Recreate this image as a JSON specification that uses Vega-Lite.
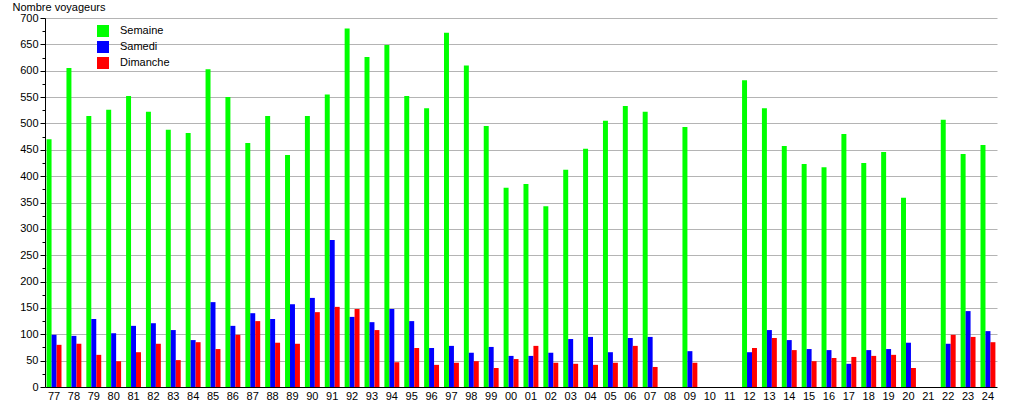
{
  "$schema": "https://vega.github.io/schema/vega-lite/v6.json",
  "width": 952,
  "height": 369,
  "autosize": {"type": "none"},
  "padding": {"left": 45, "top": 18, "right": 18, "bottom": 13},
  "background": "white",
  "config": {
    "view": {"stroke": null},
    "font": "Liberation Sans",
    "axis": {"labelFont": "Liberation Sans", "titleFont": "Liberation Sans", "labelColor": "black", "labelFontSize": 11}
  },
  "data": {
    "values": [
      {"a": "77", "Semaine": 470, "Samedi": 99, "Dimanche": 80},
      {"a": "78", "Semaine": 605, "Samedi": 97, "Dimanche": 82},
      {"a": "79", "Semaine": 514, "Samedi": 129, "Dimanche": 61},
      {"a": "80", "Semaine": 526, "Samedi": 102, "Dimanche": 49},
      {"a": "81", "Semaine": 552, "Samedi": 116, "Dimanche": 66},
      {"a": "82", "Semaine": 522, "Samedi": 121, "Dimanche": 82},
      {"a": "83", "Semaine": 488, "Samedi": 108, "Dimanche": 51},
      {"a": "84", "Semaine": 482, "Samedi": 89, "Dimanche": 85},
      {"a": "85", "Semaine": 603, "Samedi": 161, "Dimanche": 72},
      {"a": "86", "Semaine": 550, "Samedi": 116, "Dimanche": 99},
      {"a": "87", "Semaine": 463, "Samedi": 140, "Dimanche": 125},
      {"a": "88", "Semaine": 514, "Samedi": 129, "Dimanche": 84},
      {"a": "89", "Semaine": 440, "Samedi": 157, "Dimanche": 82},
      {"a": "90", "Semaine": 514, "Samedi": 169, "Dimanche": 142},
      {"a": "91", "Semaine": 555, "Samedi": 279, "Dimanche": 152},
      {"a": "92", "Semaine": 680, "Samedi": 133, "Dimanche": 148},
      {"a": "93", "Semaine": 626, "Samedi": 123, "Dimanche": 108},
      {"a": "94", "Semaine": 649, "Samedi": 148, "Dimanche": 47},
      {"a": "95", "Semaine": 552, "Samedi": 125, "Dimanche": 74},
      {"a": "96", "Semaine": 529, "Samedi": 74, "Dimanche": 42},
      {"a": "97", "Semaine": 672, "Samedi": 78, "Dimanche": 46},
      {"a": "98", "Semaine": 610, "Samedi": 65, "Dimanche": 49},
      {"a": "99", "Semaine": 495, "Samedi": 76, "Dimanche": 36},
      {"a": "00", "Semaine": 378, "Samedi": 59, "Dimanche": 53},
      {"a": "01", "Semaine": 385, "Samedi": 59, "Dimanche": 78},
      {"a": "02", "Semaine": 343, "Samedi": 65, "Dimanche": 46},
      {"a": "03", "Semaine": 412, "Samedi": 91, "Dimanche": 44},
      {"a": "04", "Semaine": 452, "Samedi": 95, "Dimanche": 42},
      {"a": "05", "Semaine": 505, "Samedi": 66, "Dimanche": 46},
      {"a": "06", "Semaine": 533, "Samedi": 93, "Dimanche": 78},
      {"a": "07", "Semaine": 522, "Samedi": 95, "Dimanche": 38},
      {"a": "09", "Semaine": 493, "Samedi": 68, "Dimanche": 46},
      {"a": "12", "Semaine": 582, "Samedi": 66, "Dimanche": 74},
      {"a": "13", "Semaine": 529, "Samedi": 108, "Dimanche": 93},
      {"a": "14", "Semaine": 457, "Samedi": 89, "Dimanche": 70},
      {"a": "15", "Semaine": 423, "Samedi": 72, "Dimanche": 49},
      {"a": "16", "Semaine": 417, "Samedi": 70, "Dimanche": 55},
      {"a": "17", "Semaine": 480, "Samedi": 44, "Dimanche": 57},
      {"a": "18", "Semaine": 425, "Samedi": 70, "Dimanche": 59},
      {"a": "19", "Semaine": 446, "Samedi": 72, "Dimanche": 61},
      {"a": "20", "Semaine": 359, "Samedi": 84, "Dimanche": 36},
      {"a": "22", "Semaine": 507, "Samedi": 82, "Dimanche": 99},
      {"a": "23", "Semaine": 442, "Samedi": 144, "Dimanche": 95},
      {"a": "24", "Semaine": 459, "Samedi": 106, "Dimanche": 85}
    ]
  },
  "transform": [
    {"fold": ["Semaine", "Samedi", "Dimanche"], "as": ["jour", "n"]}
  ],
  "mark": {"type": "bar"},
  "encoding": {
    "x": {
      "field": "a",
      "type": "nominal",
      "scale": {
        "domain": ["77","78","79","80","81","82","83","84","85","86","87","88","89","90","91","92","93","94","95","96","97","98","99","00","01","02","03","04","05","06","07","08","09","10","11","12","13","14","15","16","17","18","19","20","21","22","23","24"],
        "paddingInner": 0.25,
        "paddingOuter": 0.08
      },
      "axis": {
        "title": null,
        "labelAngle": 0,
        "ticks": false,
        "labelPadding": 3,
        "domainColor": "black",
        "grid": false
      }
    },
    "xOffset": {
      "field": "jour",
      "type": "nominal",
      "scale": {"domain": ["Semaine", "Samedi", "Dimanche"]}
    },
    "y": {
      "field": "n",
      "type": "quantitative",
      "scale": {"domain": [0, 700], "nice": false},
      "axis": {
        "title": "Nombre voyageurs",
        "titleAngle": 0,
        "titleAlign": "left",
        "titleBaseline": "bottom",
        "titleX": -33,
        "titleY": -6,
        "titleFontSize": 11,
        "titleFontWeight": "normal",
        "titleColor": "black",
        "values": [0,25,50,75,100,125,150,175,200,225,250,275,300,325,350,375,400,425,450,475,500,525,550,575,600,625,650,675,700],
        "labelExpr": "datum.value % 50 === 0 ? datum.label : ''",
        "labelPadding": 2,
        "tickSize": {"condition": {"test": "datum.value % 50 === 0", "value": 5}, "value": 3},
        "tickColor": "black",
        "domainColor": "black",
        "grid": true,
        "gridColor": "#b4b4b4",
        "gridOpacity": {"condition": {"test": "datum.value % 50 === 0 && datum.value > 0", "value": 1}, "value": 0}
      }
    },
    "color": {
      "field": "jour",
      "type": "nominal",
      "scale": {"domain": ["Semaine", "Samedi", "Dimanche"], "range": ["#00ff00", "#0000ff", "#ff0000"]},
      "legend": {
        "title": null,
        "orient": "none",
        "legendX": 52,
        "legendY": 7,
        "symbolType": "square",
        "symbolSize": 144,
        "symbolStrokeWidth": 0,
        "symbolOpacity": 1,
        "labelFontSize": 11,
        "labelColor": "black",
        "labelOffset": 11,
        "rowPadding": 4
      }
    }
  }
}
